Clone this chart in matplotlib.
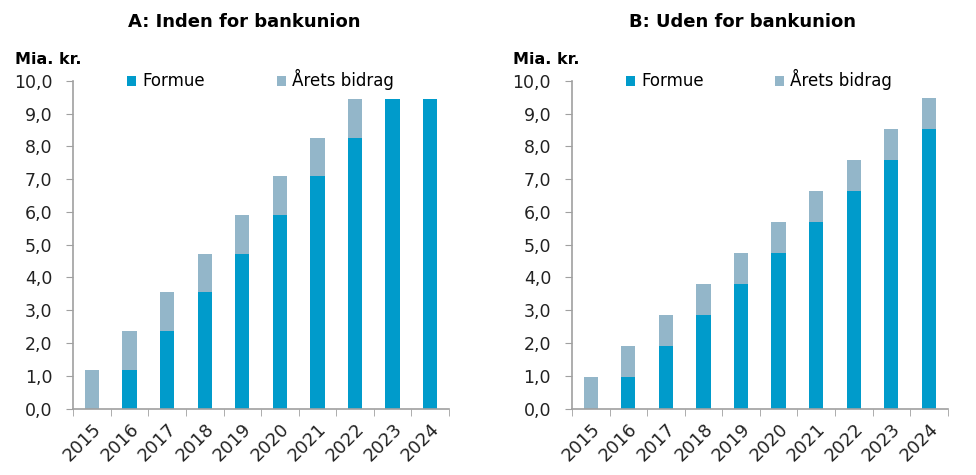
import matplotlib.pyplot as plt
import numpy as np

years = ['2015', '2016', '2017', '2018', '2019', '2020', '2021', '2022', '2023', '2024']

# Panel A: inden for bankunion
formue_a = [0.0, 1.18, 2.36, 3.54, 4.72, 5.90, 7.08, 8.26, 9.45, 9.45]
bidrag_a = [1.18, 1.18, 1.18, 1.18, 1.18, 1.18, 1.18, 1.18, 0.0, 0.0]

# Panel B: uden for bankunion
formue_b = [0.0, 0.95, 1.90, 2.84, 3.79, 4.74, 5.69, 6.63, 7.58, 8.53]
bidrag_b = [0.95, 0.95, 0.95, 0.95, 0.95, 0.95, 0.95, 0.95, 0.95, 0.95]

BLUE = '#009bcb'
GREY = '#93b6c9'
SPINE = '#a0a0a0'

plt.rcParams['font.family'] = ['DejaVu Sans']

fig = plt.figure(figsize=(9.76, 4.75), dpi=100)


def panel(left, title, formue, bidrag):
    ax = fig.add_axes([left, 0.14, 0.385, 0.69])
    x = np.arange(len(years))
    ax.bar(x, formue, width=0.38, color=BLUE, label='Formue')
    ax.bar(x, bidrag, width=0.38, bottom=formue, color=GREY, label='Årets bidrag')
    ax.set_xlim(-0.5, len(years) - 0.5)
    ax.set_ylim(0, 10)
    ax.set_yticks(np.arange(0, 10.1, 1))
    ax.set_yticklabels([f'{v:.1f}'.replace('.', ',') for v in np.arange(0, 10.1, 1)],
                       fontsize=12.5, color='#222222')
    ax.set_xticks(x)
    ax.set_xticklabels(years, rotation=45, ha='right', rotation_mode='anchor',
                       fontsize=13, color='#222222')
    ax.tick_params(axis='x', length=0, pad=8)
    ax.set_xticks(np.arange(-0.5, len(years)), minor=True)
    ax.tick_params(axis='x', which='minor', length=5, color=SPINE, direction='out')
    ax.tick_params(axis='y', length=5, color=SPINE, direction='out', pad=10)
    for s in ('top', 'right'):
        ax.spines[s].set_visible(False)
    for s in ('left', 'bottom'):
        ax.spines[s].set_color(SPINE)
        ax.spines[s].set_linewidth(1.2)
    ax.legend(loc='upper left', bbox_to_anchor=(0.126, 1.055), ncol=2, frameon=False,
              fontsize=12, handlelength=0.55, handleheight=0.55, handletextpad=0.35,
              columnspacing=4.3, borderaxespad=0)
    fig.text(left + 0.175, 0.953, title, ha='center', va='center',
             fontsize=13, fontweight='bold')
    fig.text(left - 0.06, 0.875, 'Mia. kr.', ha='left', va='center',
             fontsize=11.5, fontweight='bold')
    return ax


panel(0.075, 'A: Inden for bankunion', formue_a, bidrag_a)
panel(0.586, 'B: Uden for bankunion', formue_b, bidrag_b)

fig.savefig('out.png', dpi=100)
